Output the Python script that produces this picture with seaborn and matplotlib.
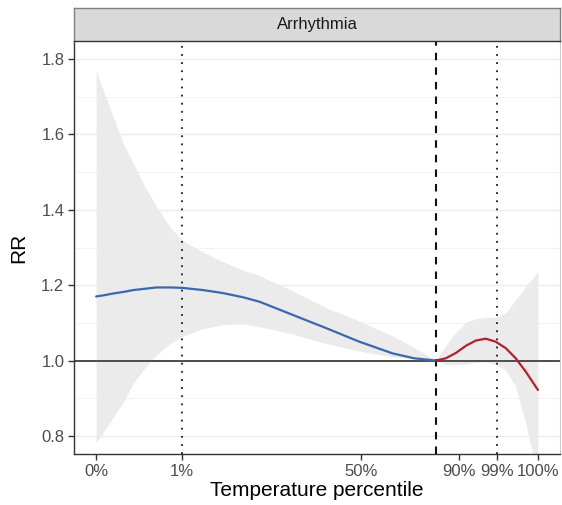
import matplotlib
matplotlib.use("Agg")
import matplotlib.pyplot as plt
import seaborn as sns
import pandas as pd

# ---- data (x in temperature-scale units, 0 = 0th pct, 100 = 100th pct) ----
cold_x = [0, 1.65, 3.91, 6.16, 8.42, 10.68, 13.70, 16.70, 19.41, 24.22, 28.74, 33.25,
          37.02, 44.54, 52.08, 59.59, 67.11, 72.0, 76.9]
cold_rr = [1.170, 1.173, 1.178, 1.182, 1.187, 1.190, 1.194, 1.194, 1.193, 1.187, 1.179, 1.168,
           1.156, 1.121, 1.086, 1.050, 1.019, 1.006, 1.000]
cold_hi = [1.770, 1.717, 1.646, 1.576, 1.523, 1.470, 1.408, 1.355, 1.320, 1.288, 1.262, 1.240,
           1.225, 1.185, 1.140, 1.105, 1.065, 1.035, 1.000]
cold_lo = [0.781, 0.810, 0.850, 0.890, 0.940, 0.975, 1.015, 1.045, 1.064, 1.085, 1.095, 1.097,
           1.090, 1.070, 1.045, 1.025, 1.010, 1.004, 1.000]

heat_x = [76.9, 79.16, 81.42, 83.68, 85.94, 88.19, 90.45, 92.71, 94.97, 97.22, 100.0]
heat_rr = [1.000, 1.006, 1.020, 1.039, 1.053, 1.058, 1.050, 1.033, 1.006, 0.971, 0.922]
heat_hi = [1.000, 1.040, 1.075, 1.102, 1.111, 1.114, 1.115, 1.126, 1.161, 1.196, 1.236]
heat_lo = [1.000, 0.990, 0.988, 0.990, 0.995, 0.997, 0.990, 0.975, 0.931, 0.834, 0.690]

tick_pos = [0, 19.41, 59.98, 82.17, 90.81, 100]
tick_labels = ["0%", "1%", "50%", "90%", "99%", "100%"]
mmt = 76.9
p1 = 19.41
p99 = 90.81
facet_title = "Arrhythmia"

# ---- figure ----
sns.set_theme(style="white")
plt.rcParams["font.family"] = ["Liberation Sans", "DejaVu Sans"]

W, H = 562, 505
fig = plt.figure(figsize=(W / 100, H / 100), dpi=100)
px_l, px_r, px_t, px_b = 74, 560, 41, 454
ax = fig.add_axes([px_l / W, 1 - px_b / H, (px_r - px_l) / W, (px_b - px_t) / H])
strip = fig.add_axes([px_l / W, 1 - px_t / H, (px_r - px_l) / W, (px_t - 8) / H])

ax.set_facecolor("white")
for v in [0.8, 1.0, 1.2, 1.4, 1.6, 1.8]:
    ax.axhline(v, color="#EBEBEB", lw=1.0, zorder=0)
for v in [0.9, 1.1, 1.3, 1.5, 1.7]:
    ax.axhline(v, color="#F3F3F3", lw=0.7, zorder=0)

ax.fill_between(cold_x, cold_lo, cold_hi, color="#EBEBEB", lw=0, zorder=1)
ax.fill_between(heat_x, heat_lo, heat_hi, color="#EBEBEB", lw=0, zorder=1)

ax.axhline(1.0, color="#4D4D4D", lw=1.4, zorder=2)

df_c = pd.DataFrame({"x": cold_x, "rr": cold_rr})
df_h = pd.DataFrame({"x": heat_x, "rr": heat_rr})
sns.lineplot(data=df_c, x="x", y="rr", ax=ax, color="#3A68B0", lw=1.6, zorder=4)
sns.lineplot(data=df_h, x="x", y="rr", ax=ax, color="#B3202E", lw=1.6, zorder=4)

ax.axvline(p1, color="#1A1A1A", lw=1.3, ls=(0, (1, 3.5)), zorder=3)
ax.axvline(p99, color="#1A1A1A", lw=1.3, ls=(0, (1, 3.5)), zorder=3)
ax.axvline(mmt, color="#111111", lw=1.5, ls=(0, (3.6, 3.4)), zorder=3)

ax.set_xlim(-5, 105)
ax.set_ylim(0.752, 1.848)
ax.set_xticks(tick_pos)
ax.set_xticklabels(tick_labels)
ax.set_yticks([0.8, 1.0, 1.2, 1.4, 1.6, 1.8])
ax.set_yticklabels(["0.8", "1.0", "1.2", "1.4", "1.6", "1.8"])
ax.tick_params(axis="both", which="major", length=4, width=1, color="#333333",
               labelsize=12, labelcolor="#4D4D4D", pad=3, direction="out",
               bottom=True, left=True)
ax.set_xlabel("Temperature percentile", fontsize=15, color="black", labelpad=2)
ax.set_ylabel("RR", fontsize=15, color="black", labelpad=9)

for s in ["left", "bottom"]:
    ax.spines[s].set_color("#333333")
    ax.spines[s].set_linewidth(1.0)
ax.spines["right"].set_color("#CCCCCC")
ax.spines["right"].set_linewidth(0.8)
ax.spines["top"].set_visible(False)

strip.set_facecolor("#D9D9D9")
strip.set_xticks([])
strip.set_yticks([])
for s in strip.spines.values():
    s.set_color("#7F7F7F")
    s.set_linewidth(1.0)
strip.spines["bottom"].set_color("#333333")
strip.text(0.5, 0.5, facet_title, ha="center", va="center", fontsize=12,
           color="#1A1A1A", transform=strip.transAxes)

fig.savefig("out.png", dpi=100)
